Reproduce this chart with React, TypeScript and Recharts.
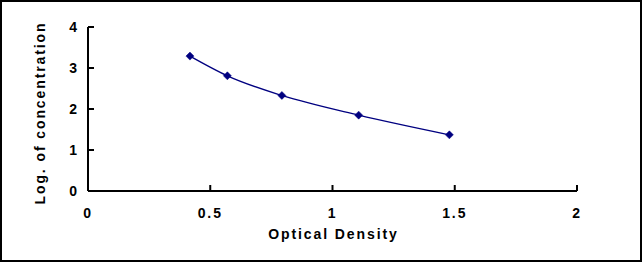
import { LineChart, Line, XAxis, YAxis } from "recharts";

const opticalDensity = [0.417, 0.57, 0.793, 1.107, 1.478];
const logConcentration = [3.29, 2.81, 2.33, 1.85, 1.37];
const xTicks = [0, 0.5, 1, 1.5, 2];
const yTicks = [0, 1, 2, 3, 4];

const data = opticalDensity.map((od, i) => ({ od, conc: logConcentration[i] }));

const FONT = "'Liberation Sans', Arial, sans-serif";
const NAVY = "#000080";
const SPACING = 1.9;
const tickStyle = { fontSize: 14, fontWeight: "bold", fill: "#000", fontFamily: FONT, letterSpacing: SPACING };

const Diamond = (props: any) => {
  const { cx, cy } = props;
  if (cx == null || cy == null) return null;
  const r = 4;
  return (
    <polygon
      points={`${cx},${cy - r} ${cx + r},${cy} ${cx},${cy + r} ${cx - r},${cy}`}
      fill={NAVY}
      stroke={NAVY}
      strokeWidth={0.5}
    />
  );
};

const YTitle = () => (
  <text
    x={43}
    y={111}
    transform="rotate(-90 43 111)"
    textAnchor="middle"
    fontSize={14}
    fontWeight="bold"
    fontFamily={FONT}
    letterSpacing={SPACING}
    fill="#000"
  >
    Log. of concentration
  </text>
);

const XTitle = () => (
  <text
    x={331.5}
    y={236.5}
    textAnchor="middle"
    fontSize={14}
    fontWeight="bold"
    fontFamily={FONT}
    letterSpacing={SPACING}
    fill="#000"
  >
    Optical Density
  </text>
);

export default function App() {
  return (
    <div
      style={{
        position: "absolute",
        left: 0,
        top: 0,
        width: 642,
        height: 262,
        border: "2px solid #000",
        boxSizing: "border-box",
        background: "#fff",
      }}
    >
      <LineChart width={638} height={258} data={data} margin={{ top: 25, right: 63, bottom: 0, left: 0 }}>
        <XAxis
          type="number"
          dataKey="od"
          domain={[0, 2]}
          ticks={xTicks}
          height={69}
          tickSize={-6}
          tickMargin={23}
          axisLine={{ stroke: "#000", strokeWidth: 2 }}
          tickLine={{ stroke: "#000", strokeWidth: 2 }}
          tick={tickStyle}
          interval={0}
        />
        <YAxis
          type="number"
          domain={[0, 4]}
          ticks={yTicks}
          width={86}
          tickSize={-6}
          tickMargin={15}
          axisLine={{ stroke: "#000", strokeWidth: 2 }}
          tickLine={{ stroke: "#000", strokeWidth: 2 }}
          tick={tickStyle}
          interval={0}
        />
        <Line
          type="monotone"
          dataKey="conc"
          stroke={NAVY}
          strokeWidth={1.3}
          dot={<Diamond />}
          activeDot={false}
          isAnimationActive={false}
        />
        <YTitle />
        <XTitle />
      </LineChart>
    </div>
  );
}
